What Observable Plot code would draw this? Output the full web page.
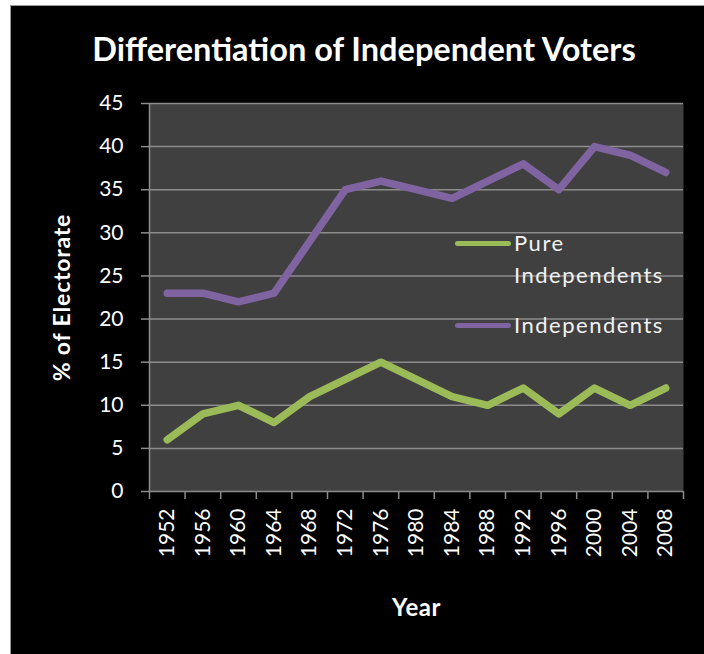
<!DOCTYPE html>
<html>
<head>
<meta charset="utf-8">
<script src="https://cdn.jsdelivr.net/npm/d3@7"></script>
<script src="https://cdn.jsdelivr.net/npm/@observablehq/plot@0.6"></script>
<style>
  html, body { margin: 0; padding: 0; background: #ffffff; }
  #panel {
    position: absolute; left: 10px; top: 5px; width: 694px; height: 649px;
    background: #000000; overflow: hidden;
    border-left: 1px solid #9a9a9a; border-top: 1px solid #9a9a9a; box-sizing: border-box;
  }
  #title {
    position: absolute; left: 0; width: 706px; top: 24px; text-align: center;
    font-family: Lato, sans-serif; font-weight: bold; font-size: 32.5px; color: #ffffff;
    line-height: 38px; white-space: nowrap;
  }
  #chart { position: absolute; left: -1px; top: 74px; }
  #chart g[aria-label="y-axis label"] text { font-weight: bold; font-size: 23px; letter-spacing: 0.8px; }
  #chart g[aria-label="x-axis label"] text { font-weight: bold; font-size: 24px; letter-spacing: 0.5px; }
  .legend-row { position: absolute; height: 32px; display: flex; align-items: center;
    font-family: Lato, sans-serif; font-size: 22px; letter-spacing: 1.5px; color: #f2f2f2; line-height: 32px; }
  .legend-swatch { width: 56px; height: 5px; border-radius: 3px; margin-right: 3px; }
</style>
</head>
<body>
<div id="panel">
  <div id="title">Differentiation of Independent Voters</div>
  <div id="chart"></div>
  <div id="legend"></div>
</div>
<script>
// Presidential election years
const years = [1952, 1956, 1960, 1964, 1968, 1972, 1976, 1980, 1984, 1988, 1992, 1996, 2000, 2004, 2008];
// Share of the electorate (%) identifying as independent
const independents = [23, 23, 22, 23, 29, 35, 36, 35, 34, 36, 38, 35, 40, 39, 37];
// Share of the electorate (%) identifying as pure independents (no leaning)
const pureIndependents = [6, 9, 10, 8, 11, 13, 15, 13, 11, 10, 12, 9, 12, 10, 12];
const yTicks = [0, 5, 10, 15, 20, 25, 30, 35, 40, 45];

const seriesNames = ["Pure Independents", "Independents"];
const seriesColors = ["#9BBB59", "#8064A2"];

const rows = [
  ...years.map((year, i) => ({year, value: pureIndependents[i], series: seriesNames[0]})),
  ...years.map((year, i) => ({year, value: independents[i], series: seriesNames[1]}))
];

// Each election year sits in the middle of a 4-year slot; ticks mark slot edges
const slotEdges = d3.range(years[0] - 2, years[years.length - 1] + 3, 4);
const axisGray = "#8c8c8c";

const chart = Plot.plot({
  width: 694,
  height: 575,
  marginLeft: 139,
  marginRight: 21,
  marginTop: 23,
  marginBottom: 164,
  style: {background: "transparent", color: "#ffffff", fontFamily: "Lato, sans-serif", fontSize: "21px"},
  x: {type: "linear", domain: [slotEdges[0], slotEdges[slotEdges.length - 1]]},
  y: {domain: [0, 45]},
  color: {domain: seriesNames, range: seriesColors},
  marks: [
    Plot.frame({fill: "#404040", stroke: null}),
    Plot.gridY(yTicks.slice(1), {stroke: axisGray, strokeOpacity: 1, strokeWidth: 1.5}),
    Plot.ruleY([0], {stroke: axisGray, strokeWidth: 1.5}),
    Plot.ruleX([slotEdges[0]], {stroke: axisGray, strokeWidth: 1.5}),
    Plot.axisY({ticks: yTicks, tickSize: 8, tickPadding: 18, stroke: axisGray, strokeWidth: 1.5,
      label: "% of Electorate", labelAnchor: "center", labelArrow: "none", labelOffset: 96}),
    Plot.axisX({ticks: slotEdges, tickSize: 8, tickFormat: () => "", stroke: axisGray, strokeWidth: 1.5, label: null}),
    Plot.axisX({ticks: years, tickSize: 0, tickPadding: 17, tickRotate: -90, tickFormat: d => String(d),
      label: "Year", labelAnchor: "center", labelArrow: "none", labelOffset: 124}),
    Plot.line(rows, {x: "year", y: "value", z: "series", stroke: "series",
      strokeWidth: 7.5, strokeLinecap: "round", strokeLinejoin: "round"})
  ]
});
document.getElementById("chart").append(chart);

// Legend placed inside the plotting area
const legendRows = [
  {color: seriesColors[0], top: 221, lines: ["Pure", "Independents"]},
  {color: seriesColors[1], top: 303, lines: ["Independents"]}
];
const legend = document.getElementById("legend");
for (const item of legendRows) {
  item.lines.forEach((line, k) => {
    const row = document.createElement("div");
    row.className = "legend-row";
    row.style.left = "444px";
    row.style.top = (item.top + k * 32) + "px";
    const sw = document.createElement("div");
    sw.className = "legend-swatch";
    sw.style.background = k === 0 ? item.color : "transparent";
    row.append(sw, document.createTextNode(line));
    legend.append(row);
  });
}
</script>
</body>
</html>
